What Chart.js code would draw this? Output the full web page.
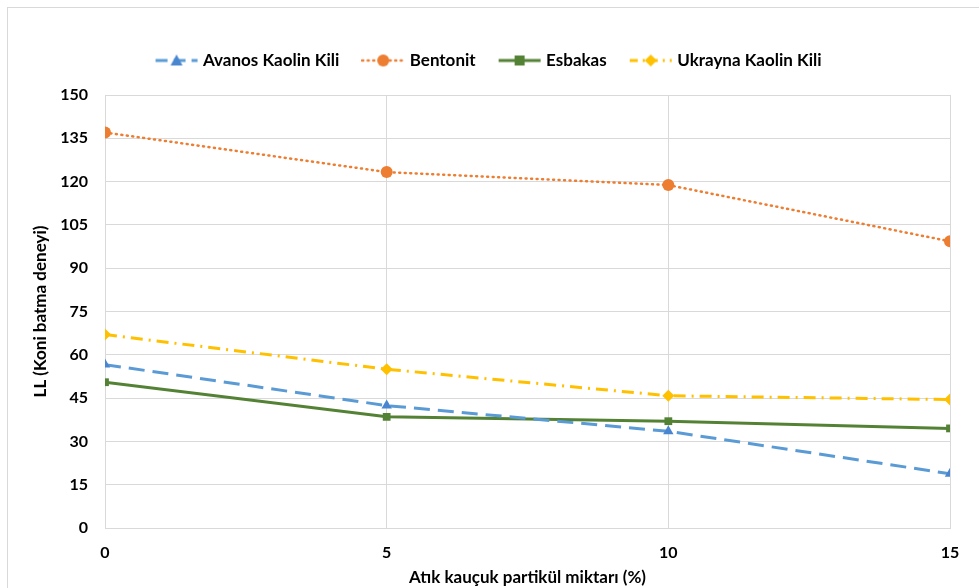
<!DOCTYPE html>
<html>
<head>
<meta charset="utf-8">
<script src="https://cdn.jsdelivr.net/npm/chart.js@4.4.0/dist/chart.umd.min.js"></script>
<style>
  html, body { margin: 0; padding: 0; background: #fff; }
  #wrap { width: 979px; height: 588px; position: relative; }
</style>
</head>
<body>
<div id="wrap"><canvas id="chart" width="979" height="588"></canvas></div>
<script>
// x values: waste rubber particle amount (%)
const xValues = [0, 5, 10, 15];
const seriesNames = ['Avanos Kaolin Kili', 'Bentonit', 'Esbakas', 'Ukrayna Kaolin Kili'];
const avanos = [56.6, 42.4, 33.5, 18.8];
const bentonit = [137.0, 123.3, 118.8, 99.3];
const esbakas = [50.5, 38.5, 37.0, 34.5];
const ukrayna = [67.0, 55.0, 45.8, 44.5];
const yTicks = [0, 15, 30, 45, 60, 75, 90, 105, 120, 135, 150];

const FONT = 'Lato, "Open Sans", sans-serif';

const styles = [
    { color: '#5B9BD5', marker: '#4A86D0', dash: [16, 8], point: 'triangle', radius: 6, width: 3 },
    { color: '#ED7D31', marker: '#ED7D31', dash: [1, 4.5], point: 'circle', radius: 6, width: 2.5 },
    { color: '#548235', marker: '#548235', dash: [], point: 'rect', radius: 5.5, width: 3 },
    { color: '#FFC000', marker: '#FFC000', dash: [12, 6, 2, 6], point: 'rectRot', radius: 6, width: 3 }
];
const seriesData = [avanos, bentonit, esbakas, ukrayna];

// small canvas with line + marker for the legend
function legendIcon(st) {
    const c = document.createElement('canvas');
    c.width = 44; c.height = 14;
    const g = c.getContext('2d');
    g.strokeStyle = st.color;
    g.lineWidth = st.width;
    g.lineCap = st.point === 'circle' ? 'round' : 'butt';
    g.setLineDash(st.point === 'triangle' ? [12, 6] : st.point === 'rectRot' ? [8, 5, 2, 5] : st.dash);
    g.beginPath(); g.moveTo(1, 7); g.lineTo(43, 7); g.stroke();
    g.setLineDash([]);
    g.fillStyle = st.marker;
    g.beginPath();
    if (st.point === 'triangle') { g.moveTo(22, 1); g.lineTo(28, 12); g.lineTo(16, 12); g.closePath(); }
    else if (st.point === 'circle') { g.arc(22, 7, 6, 0, Math.PI * 2); }
    else if (st.point === 'rect') { g.rect(17, 2, 10, 10); }
    else { g.moveTo(22, 1); g.lineTo(28, 7); g.lineTo(22, 13); g.lineTo(16, 7); g.closePath(); }
    g.fill();
    return c;
}

const frame = {
    id: 'frame',
    beforeDraw(chart) {
        const ctx = chart.ctx;
        ctx.save();
        ctx.strokeStyle = '#d9d9d9';
        ctx.lineWidth = 1;
        ctx.strokeRect(7.5, 7.5, 975, 600);
        ctx.restore();
    }
};

// extra room between the legend and the plot area
const legendGap = {
    id: 'legendGap',
    beforeLayout(chart) {
        const lg = chart.legend;
        if (lg && !lg._gapPatched) {
            const fit = lg.fit.bind(lg);
            lg.fit = function () { fit(); this.height += 16; };
            lg._gapPatched = true;
        }
    }
};

const datasets = seriesNames.map((name, i) => ({
    label: name,
    data: xValues.map((x, j) => ({ x: x, y: seriesData[i][j] })),
    borderColor: styles[i].color,
    backgroundColor: styles[i].marker,
    borderWidth: styles[i].width,
    borderDash: styles[i].dash,
    borderCapStyle: styles[i].point === 'circle' ? 'round' : 'butt',
    pointStyle: styles[i].point,
    pointRadius: styles[i].radius,
    pointBorderWidth: 0,
    pointBackgroundColor: styles[i].marker,
    tension: 0
}));

new Chart(document.getElementById('chart'), {
    type: 'line',
    data: { datasets: datasets },
    plugins: [frame, legendGap],
    options: {
        responsive: false,
        animation: false,
        layout: { padding: { left: 30, right: 29, top: 26, bottom: 0 } },
        plugins: {
            legend: {
                position: 'top',
                labels: {
                    usePointStyle: true,
                    pointStyleWidth: 36,
                    padding: 26,
                    color: '#000',
                    font: { family: FONT, size: 17, weight: 'bold' },
                    generateLabels(chart) {
                        return chart.data.datasets.map((ds, i) => ({
                            text: ds.label,
                            pointStyle: legendIcon(styles[i]),
                            fillStyle: styles[i].color,
                            strokeStyle: styles[i].color,
                            lineWidth: 0,
                            hidden: false,
                            datasetIndex: i
                        }));
                    }
                }
            },
            tooltip: { enabled: false }
        },
        scales: {
            x: {
                type: 'linear',
                min: 0,
                max: 15,
                afterFit(scale) { scale.height = 60; },
                ticks: { stepSize: 5, color: '#000', padding: 15, font: { family: FONT, size: 16, weight: 'bold' } },
                grid: { color: '#d9d9d9', lineWidth: 1, drawTicks: false },
                border: { color: '#d9d9d9' },
                title: { display: true, text: 'Atık kauçuk partikül miktarı (%)', color: '#000', padding: { top: 4, bottom: 0 }, font: { family: FONT, size: 17, weight: 'bold' } }
            },
            y: {
                min: 0,
                max: 150,
                afterBuildTicks(scale) { scale.ticks = yTicks.map(v => ({ value: v })); },
                afterFit(scale) { scale.width = 75; },
                ticks: { color: '#000', padding: 17, font: { family: FONT, size: 16, weight: 'bold' } },
                grid: { color: '#d9d9d9', lineWidth: 1, drawTicks: false },
                border: { color: '#d9d9d9' },
                title: { display: true, text: 'LL (Koni batma deneyi)', color: '#000', padding: { top: 0, bottom: 6 }, font: { family: FONT, size: 17, weight: 'bold' } }
            }
        }
    }
});
</script>
</body>
</html>
